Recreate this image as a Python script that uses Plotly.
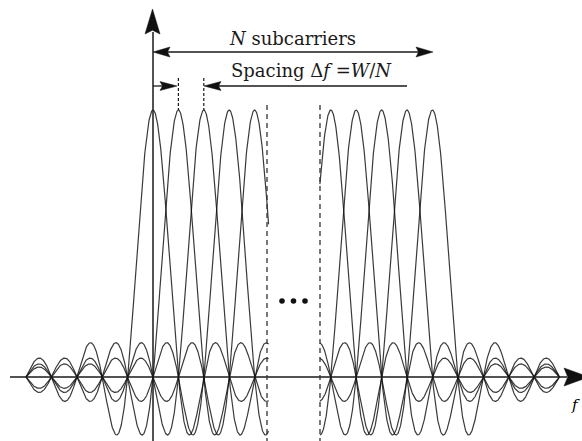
import numpy as np
import plotly.graph_objects as go

# ---- data: subcarrier centre frequencies (in units of the spacing Δf) ----
left_centers = [0, 1, 2, 3, 4]
right_centers = [7, 8, 9, 10, 11]
left_domain = [-5.0, 4.55]
right_domain = [6.57, 16.0]
title_top = "<i>N</i> subcarriers"
title_spacing = "Spacing Δ<i>f</i> =<i>W</i>/<i>N</i>"
axis_label = "<i>f</i>"

# ---- pixel <-> data mapping (layout constants) ----
W_PX, H_PX = 582, 441
X0, S = 153.0, 25.4      # px of f=0, px per subcarrier spacing
Y0, H = 377.0, 267.0     # px of baseline, px of unit amplitude


def U(px):
    return (px - X0) / S


def V(py):
    return (Y0 - py) / H


fig = go.Figure()

curve_style = dict(color="rgba(15,15,15,0.82)", width=1.2)
for centers, (lo, hi) in ((left_centers, left_domain), (right_centers, right_domain)):
    u = np.linspace(lo, hi, 700)
    for c in centers:
        fig.add_trace(go.Scatter(x=u, y=np.sinc(u - c), mode="lines",
                                 line=curve_style, hoverinfo="skip"))

shapes = []
AX = "#1a1a1a"
# axes
shapes.append(dict(type="line", x0=U(10), x1=U(567), y0=0, y1=0,
                   line=dict(color=AX, width=1.5)))
shapes.append(dict(type="line", x0=0, x1=0, y0=V(446), y1=V(32),
                   line=dict(color=AX, width=1.5)))


def head(tx, ty, dx, dy, length, hw):
    nx, ny = -dy, dx
    bx, by = tx - dx * length, ty - dy * length
    mx, my = tx - dx * length * 0.85, ty - dy * length * 0.85
    pts = [(tx, ty), (bx + nx * hw, by + ny * hw), (mx, my), (bx - nx * hw, by - ny * hw)]
    d = "M " + " L ".join(f"{U(px):.5f},{V(py):.5f}" for px, py in pts) + " Z"
    return dict(type="path", path=d, fillcolor="#111", line=dict(color="#111", width=0.5))


# axis arrowheads
shapes.append(head(589, 377, 1, 0, 25, 9))
shapes.append(head(152.5, 9, 0, -1, 25, 7.5))

# N subcarriers arrow
yN = 52
shapes.append(dict(type="line", x0=U(160), x1=U(425), y0=V(yN), y1=V(yN),
                   line=dict(color=AX, width=1.3)))
shapes.append(head(153, yN, -1, 0, 17, 5))
shapes.append(head(433, yN, 1, 0, 17, 5))

# spacing arrows
yS = 86
shapes.append(dict(type="line", x0=U(153), x1=U(170), y0=V(yS), y1=V(yS),
                   line=dict(color=AX, width=1.3)))
shapes.append(head(177, yS, 1, 0, 17, 4.5))
shapes.append(dict(type="line", x0=U(212), x1=U(407), y0=V(yS), y1=V(yS),
                   line=dict(color=AX, width=1.3)))
shapes.append(head(204, yS, -1, 0, 17, 4.5))

# small dashed ticks at the first two spacings
for c in (1, 2):
    shapes.append(dict(type="line", x0=c, x1=c, y0=V(78), y1=1.0,
                       line=dict(color=AX, width=1.2, dash="3px,2px")))

# dashed separators
for px in (267, 320):
    shapes.append(dict(type="line", x0=U(px), x1=U(px), y0=V(105), y1=V(445),
                       line=dict(color="#333", width=1.3, dash="5px,4px")))

# ellipsis dots
for px in (282, 293.5, 305):
    r = 2.8
    shapes.append(dict(type="circle", x0=U(px - r), x1=U(px + r), y0=V(301 + r), y1=V(301 - r),
                       fillcolor="#111", line=dict(color="#111", width=0)))

font = dict(family="DejaVu Serif", size=18, color="#1a1a1a")
annotations = [
    dict(x=U(292), y=V(38), text=title_top, showarrow=False, font=font,
         xanchor="center", yanchor="middle"),
    dict(x=U(311), y=V(70), text=title_spacing, showarrow=False, font=font,
         xanchor="center", yanchor="middle"),
    dict(x=U(569), y=V(405), text=axis_label, showarrow=False,
         font=dict(family="DejaVu Serif", size=15, color="#000000"),
         xanchor="left", yanchor="middle"),
]

fig.update_layout(
    width=W_PX, height=H_PX,
    margin=dict(l=0, r=0, t=0, b=0),
    paper_bgcolor="white", plot_bgcolor="white",
    showlegend=False,
    xaxis=dict(range=[U(0), U(W_PX)], visible=False, fixedrange=True),
    yaxis=dict(range=[V(H_PX), V(0)], visible=False, fixedrange=True),
    shapes=shapes, annotations=annotations,
)

fig.write_html("out.html",
               config={"displayModeBar": False, "staticPlot": True},
               post_script="document.body.style.margin='0';document.body.style.overflow='hidden';")
